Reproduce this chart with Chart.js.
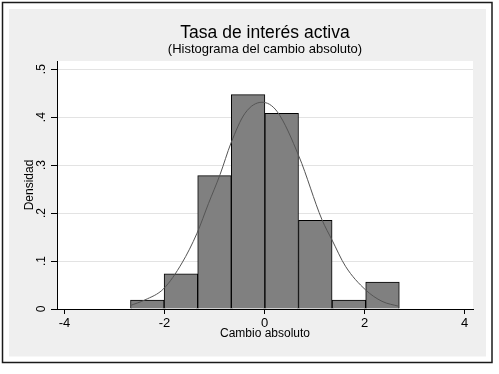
<!DOCTYPE html>
<html>
<head>
<meta charset="utf-8">
<script src="https://cdn.jsdelivr.net/npm/chart.js@4"></script>
<style>
  html, body { margin: 0; padding: 0; background: #fff; }
  #wrap { width: 499px; height: 374px; }
</style>
</head>
<body>
<div id="wrap"><canvas id="histChart"></canvas></div>
<script>
// Histogram bins (centres) and densities
const binCenters = [-2.344, -1.672, -1.0, -0.328, 0.344, 1.016, 1.688, 2.36];
const densities = [0.0188, 0.0735, 0.278, 0.447, 0.408, 0.185, 0.0188, 0.056];

// Normal density overlay
const curveX = [-2.69, -2.39, -2.02, -1.65, -1.35, -1.12, -0.89, -0.67, -0.39, -0.05, 0.25, 0.69, 1.15, 1.35, 1.62, 2.02, 2.35, 2.69];
const curveY = [0.007, 0.019, 0.042, 0.096, 0.158, 0.22, 0.28, 0.346, 0.408, 0.431, 0.412, 0.318, 0.186, 0.144, 0.089, 0.040, 0.016, 0.0055];

const xTicks = [-4, -2, 0, 2, 4];
const yTicks = [0, 0.1, 0.2, 0.3, 0.4, 0.5];

const FONT = 'Liberation Sans, Arial, sans-serif';

// frame, grey backdrop and white plot region
const framePlugin = {
    id: 'frame',
    beforeDraw(chart) {
        const ctx = chart.ctx;
        const a = chart.chartArea;
        ctx.save();
        ctx.fillStyle = '#ffffff';
        ctx.fillRect(0, 0, chart.width, chart.height);
        ctx.strokeStyle = '#1a1a1a';
        ctx.lineWidth = 1.5;
        ctx.strokeRect(2.5, 2.5, 489.5, 360);
        ctx.fillStyle = '#efefef';
        ctx.fillRect(9, 9, 477, 347.5);
        ctx.fillStyle = '#ffffff';
        ctx.fillRect(a.left, a.top, a.right - a.left, a.bottom - a.top);
        ctx.restore();
    }
};

new Chart(document.getElementById('histChart').getContext('2d'), {
    type: 'bar',
    data: {
        datasets: [{
            type: 'line',
            data: curveX.map((x, i) => ({ x: x, y: curveY[i] })),
            borderColor: '#555555',
            borderWidth: 1,
            pointRadius: 0,
            cubicInterpolationMode: 'monotone',
            fill: false,
            order: 0
        }, {
            type: 'bar',
            data: binCenters.map((x, i) => ({ x: x, y: densities[i] })),
            backgroundColor: '#808080',
            borderColor: '#000000',
            borderWidth: 1,
            barPercentage: 1,
            categoryPercentage: 1,
            order: 1
        }]
    },
    options: {
        responsive: true,
        maintainAspectRatio: false,
        animation: false,
        layout: { padding: { top: 9, left: 0, right: 26, bottom: 0 } },
        plugins: {
            legend: { display: false },
            tooltip: { enabled: false },
            title: {
                display: true,
                text: 'Tasa de interés activa',
                fullSize: false,
                color: '#000',
                font: { family: FONT, size: 17.5, weight: 'normal', lineHeight: 1 },
                padding: { top: 15, bottom: 0 }
            },
            subtitle: {
                display: true,
                text: '(Histograma del cambio absoluto)',
                fullSize: false,
                color: '#000',
                font: { family: FONT, size: 13, weight: 'normal', lineHeight: 1 },
                padding: { top: 1, bottom: 5.5 }
            }
        },
        scales: {
            x: {
                type: 'linear',
                min: -4.15,
                max: 4.17,
                offset: false,
                afterFit(scale) { scale.height = 65; },
                afterBuildTicks(scale) { scale.ticks = xTicks.map(v => ({ value: v })); },
                grid: { offset: false, drawOnChartArea: false, tickColor: '#000', tickLength: 5 },
                border: { color: '#000', width: 1 },
                ticks: {
                    color: '#000',
                    padding: 2,
                    maxRotation: 0,
                    font: { family: FONT, size: 13 },
                    callback: v => String(v)
                },
                title: {
                    display: true,
                    text: 'Cambio absoluto',
                    color: '#000',
                    font: { family: FONT, size: 12, lineHeight: 1.2 },
                    padding: { top: 0, bottom: 33 }
                }
            },
            y: {
                min: 0,
                max: 0.517,
                afterFit(scale) { scale.width = 57; },
                afterBuildTicks(scale) { scale.ticks = yTicks.map(v => ({ value: v })); },
                grid: { color: '#e3e3e3', tickColor: '#000', tickLength: 6 },
                border: { color: '#000', width: 1 },
                ticks: {
                    color: '#000',
                    padding: 4,
                    minRotation: 90,
                    maxRotation: 90,
                    crossAlign: 'center',
                    font: { family: FONT, size: 12 },
                    callback: v => v === 0 ? '0' : v.toFixed(1).replace(/^0/, '')
                },
                title: {
                    display: true,
                    text: 'Densidad',
                    color: '#000',
                    font: { family: FONT, size: 12, lineHeight: 1.2 },
                    padding: { top: 22, bottom: 0 }
                }
            }
        }
    },
    plugins: [framePlugin]
});
</script>
</body>
</html>
